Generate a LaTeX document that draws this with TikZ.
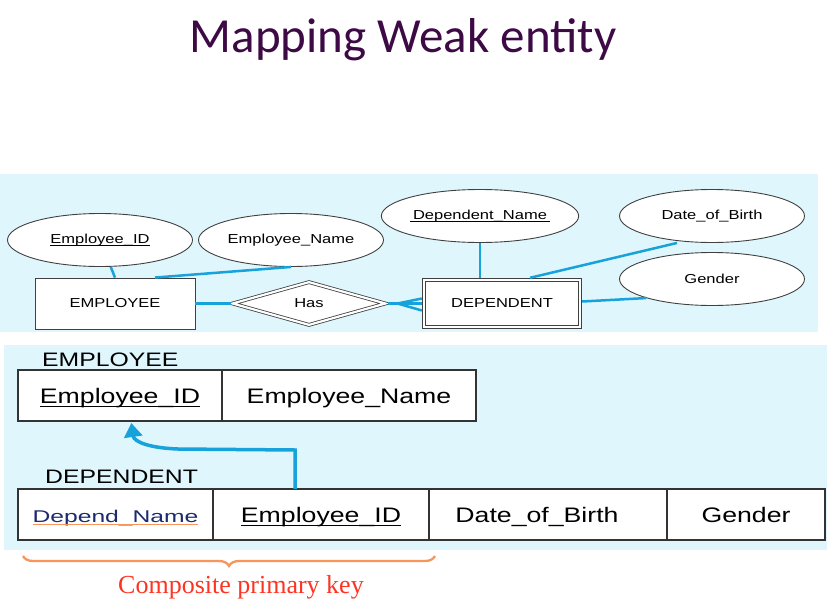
\documentclass[tikz,border=0pt]{standalone}
\usepackage{fontspec}
\setmainfont{Liberation Sans}
\newfontfamily\titlefont{Carlito}
\newfontfamily\notefont{Liberation Serif}
\usepackage{graphicx}
\usepackage{tikz}
\usetikzlibrary{shapes, shapes.geometric, arrows.meta, positioning, decorations.pathreplacing}
\definecolor{panel}{HTML}{DFF6FD}
\definecolor{linkblue}{HTML}{17A2DC}
\definecolor{titlecol}{HTML}{3D0A45}
\definecolor{bracecol}{HTML}{F7955A}
\definecolor{notecol}{HTML}{FF3322}
\definecolor{navytext}{HTML}{1C2A6E}
\newcommand{\wtext}[1]{\scalebox{1.27}[1]{#1}}
\newcommand{\keyline}[2][black]{\vtop{\hbox{#2}\kern-1.5pt{\color{#1}\hrule height 1.2pt}}}

\begin{document}
\begin{tikzpicture}[x=1pt, y=-1pt,
  attr/.style={draw=black!75, line width=0.9pt, ellipse, fill=white, minimum width=185pt, minimum height=53pt, inner sep=0pt, font=\fontsize{13}{15}\selectfont},
  ent/.style={draw=black!75, line width=0.9pt, rectangle, fill=white, minimum width=160pt, minimum height=51pt, font=\fontsize{13}{15}\selectfont},
  rel/.style={draw=black!75, line width=0.8pt, diamond, double=white, double distance=2.2pt, fill=white, minimum width=154pt, minimum height=44pt, inner sep=0pt, outer sep=1.5pt, font=\fontsize{13}{15}\selectfont},
  link/.style={draw=linkblue, line width=2.5pt},
  cell/.style={draw=black!80, line width=1.2pt, rectangle, fill=white, minimum height=51pt, outer sep=0pt, inner sep=0pt, text height=15pt, text depth=0pt, font=\fontsize{21}{25}\selectfont},
  caption/.style={anchor=base west, inner sep=0pt, font=\fontsize{19.5}{23}\selectfont},
  fk/.style={draw=linkblue, line width=3.5pt, -{Triangle[width=18pt,length=14pt]}, shorten >=2pt},
  brace/.style={draw=bracecol, line width=2.3pt, decorate, decoration={brace, amplitude=10pt}}
]
\useasboundingbox (0,0) rectangle (827,605);
\fill[panel] (0,174) rectangle (818,332);
\fill[panel] (4,345) rectangle (827,550);

\node[font=\titlefont\fontsize{49}{55}\selectfont, text=titlecol, anchor=base] (title) at (403,52) {Mapping Weak entity};

\node[attr] (a1) at (100,240) {\wtext{\keyline{Employee\_ID}}};
\node[attr] (a2) at (291,240) {\wtext{Employee\_Name}};
\node[ent] (emp) at (115,303.5) {\wtext{EMPLOYEE}};
\node[rel] (has) at (309,303.5) {\wtext{Has}};
\node[ent, double=white, double distance=2.5pt, minimum width=156pt, minimum height=47pt, outer sep=2.2pt] (dep) at (502,303.5) {\wtext{DEPENDENT}};
\node[attr] (a3) at (480,216) {\wtext{\keyline{\,Dependent\_Name\,}}};
\node[attr] (a4) at (712,216) {\wtext{Date\_of\_Birth}};
\node[attr] (a5) at (712,279) {\wtext{Gender}};

\draw[link] (a1) -- (emp.north);
\draw[link] (a2.south) -- ([xshift=40pt]emp.north);
\draw[link] (emp) -- (has);
\draw[link] (has.east) -- ++(10,0) coordinate (crow);
\foreach \dy in {5,0,-7} \draw[link] (crow) -- ([yshift=\dy pt]dep.west);
\draw[link] (a3.south) -- (a3.south |- dep.north);
\draw[link] ([xshift=-35pt]a4.south) -- ([xshift=28pt]dep.north);
\draw[link] (a5.south west) -- ([yshift=2pt]dep.east);

\node[caption] (c1) at (42,366) {\wtext{EMPLOYEE}};
\node[cell, minimum width=204pt] (t1) at (120,395.5) {\wtext{\keyline{Employee\_ID}}};
\node[cell, minimum width=254pt, right=0pt of t1] (t2) {\wtext{Employee\_Name}};

\node[caption] (c2) at (45,483) {\wtext{DEPENDENT}};
\node[cell, minimum width=195pt] (t3) at (115.5,514.5) {\scalebox{1.45}[1]{\fontsize{17}{20}\selectfont\keyline[bracecol]{\textcolor{navytext}{Depend\_Name}}}};
\node[cell, minimum width=216pt, right=0pt of t3] (t4) {\wtext{\keyline{Employee\_ID}}};
\node[cell, minimum width=238pt, right=0pt of t4] (t5) {\wtext{Date\_of\_Birth}\hspace*{22pt}};
\node[cell, minimum width=158pt, right=0pt of t5] (t6) {\wtext{Gender}};

\draw[fk] ([xshift=-26pt]t4.north) -- ++(0,-39) -- (178,449) .. controls (150,448) and (134,442) .. ([xshift=11pt]t1.south);

\draw[brace] ([shift={(6,16)}]t4.south east) -- ([shift={(5,16)}]t3.south west);
\node[font=\notefont\fontsize{26}{30}\selectfont, text=notecol] (note) at (241,587) {Composite primary key};
\end{tikzpicture}
\end{document}
